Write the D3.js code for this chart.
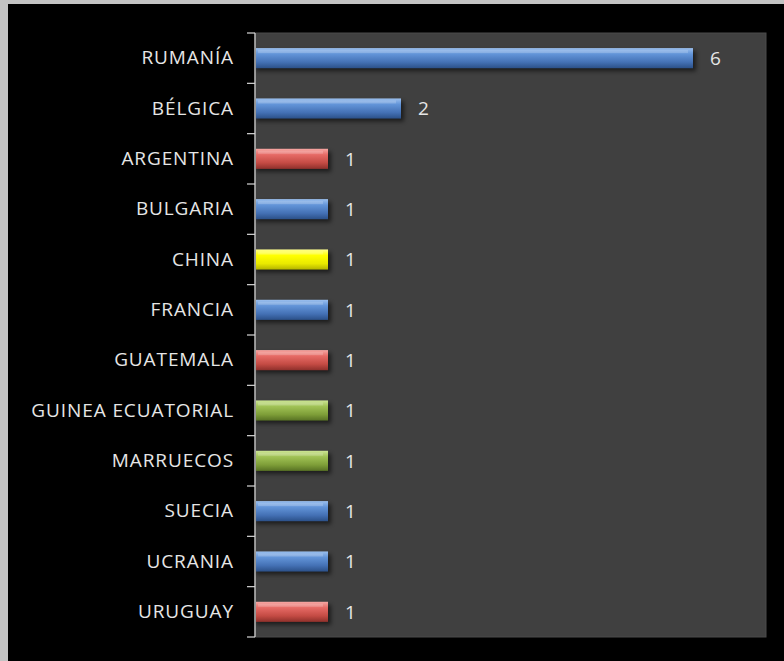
<!DOCTYPE html>
<html><head><meta charset="utf-8">
<script src="https://cdn.jsdelivr.net/npm/d3@7"></script>
<style>html,body{margin:0;padding:0;background:#c3c3c3;}svg{display:block;}</style>
</head><body>
<script>
const categories = ["RUMANÍA","BÉLGICA","ARGENTINA","BULGARIA","CHINA","FRANCIA","GUATEMALA","GUINEA ECUATORIAL","MARRUECOS","SUECIA","UCRANIA","URUGUAY"];
const values = [6,2,1,1,1,1,1,1,1,1,1,1];
const colorGroups = ["blue","blue","red","blue","yellow","blue","red","green","green","blue","blue","red"];

const W=784,H=661;
const svg=d3.select("body").append("svg").attr("width",W).attr("height",H);
svg.append("rect").attr("x",0).attr("y",0).attr("width",W).attr("height",H).attr("fill","#c3c3c3");
svg.append("rect").attr("x",8).attr("y",4).attr("width",W-8).attr("height",H-4).attr("fill","#000");

const plot={l:255,t:33,r:766,b:637};
svg.append("rect").attr("x",plot.l).attr("y",plot.t).attr("width",plot.r-plot.l).attr("height",plot.b-plot.t)
  .attr("fill","#404040").attr("stroke","#4a4a4a").attr("stroke-width",1);

const x=d3.scaleLinear().domain([0,7]).range([plot.l,plot.r]);
const y=d3.scaleBand().domain(categories).range([plot.t,plot.b]).paddingInner(0.6).paddingOuter(0.3);

const palettes={
  blue:["#9cc0ee","#6294d8","#4471b5","#2b5088"],
  red:["#f6a8a4","#e66a65","#c44b44","#8e302b"],
  green:["#cde596","#a0c255","#7e9e38","#587224"],
  yellow:["#ffff90","#ffff00","#eaea00","#b4b400"]
};
const defs=svg.append("defs");
Object.entries(palettes).forEach(([k,c])=>{
  const g=defs.append("linearGradient").attr("id","g_"+k).attr("x1",0).attr("y1",0).attr("x2",0).attr("y2",1);
  g.append("stop").attr("offset","0%").attr("stop-color",c[0]);
  g.append("stop").attr("offset","30%").attr("stop-color",c[1]);
  g.append("stop").attr("offset","70%").attr("stop-color",c[2]);
  g.append("stop").attr("offset","100%").attr("stop-color",c[3]);
});
const blur=defs.append("filter").attr("id","sh").attr("x","-10%").attr("y","-50%").attr("width","130%").attr("height","220%");
blur.append("feGaussianBlur").attr("stdDeviation",2);

const data=categories.map((c,i)=>({c,v:values[i],g:colorGroups[i]}));
svg.selectAll("rect.sh").data(data).join("rect").attr("class","sh")
  .attr("x",x(0)+1).attr("y",d=>y(d.c)+3).attr("width",d=>x(d.v)-x(0)+2).attr("height",y.bandwidth())
  .attr("fill","#000").attr("opacity",0.55).attr("filter","url(#sh)");
svg.selectAll("rect.bar").data(data).join("rect").attr("class","bar")
  .attr("x",x(0)+1).attr("y",d=>y(d.c)).attr("width",d=>x(d.v)-x(0)-1).attr("height",y.bandwidth())
  .attr("fill",d=>"url(#g_"+d.g+")");
svg.selectAll("rect.hl").data(data).join("rect").attr("class","hl")
  .attr("x",x(0)+3).attr("y",d=>y(d.c)+2).attr("width",d=>x(d.v)-x(0)-8).attr("height",3)
  .attr("fill","#fff").attr("opacity",0.18);

const font="'Open Sans','Liberation Sans',Arial,sans-serif";
const ax=d3.axisLeft(y).tickSize(0).tickPadding(21);
const axg=svg.append("g").attr("transform",`translate(${plot.l},0)`).call(ax);
axg.select(".domain").remove();
axg.selectAll("text").attr("fill","#e6e6e6").style("font-family",font).style("font-size","19px").style("letter-spacing","0.9px");
svg.append("line").attr("x1",plot.l).attr("x2",plot.l).attr("y1",plot.t).attr("y2",plot.b).attr("stroke","#d8d8d8").attr("stroke-width",1.2);
const bounds=d3.range(categories.length+1).map(i=>plot.t+i*(plot.b-plot.t)/categories.length);
svg.selectAll("line.tk").data(bounds).join("line").attr("class","tk")
  .attr("x1",plot.l-8).attr("x2",plot.l).attr("y1",d=>d).attr("y2",d=>d).attr("stroke","#d8d8d8").attr("stroke-width",1.2);

svg.selectAll("text.val").data(data).join("text").attr("class","val")
  .attr("x",d=>x(d.v)+17).attr("y",d=>y(d.c)+y.bandwidth()/2).attr("dy","0.36em")
  .attr("fill","#e6e6e6").style("font-family",font).style("font-size","19px")
  .text(d=>d.v);
</script>
</body></html>
